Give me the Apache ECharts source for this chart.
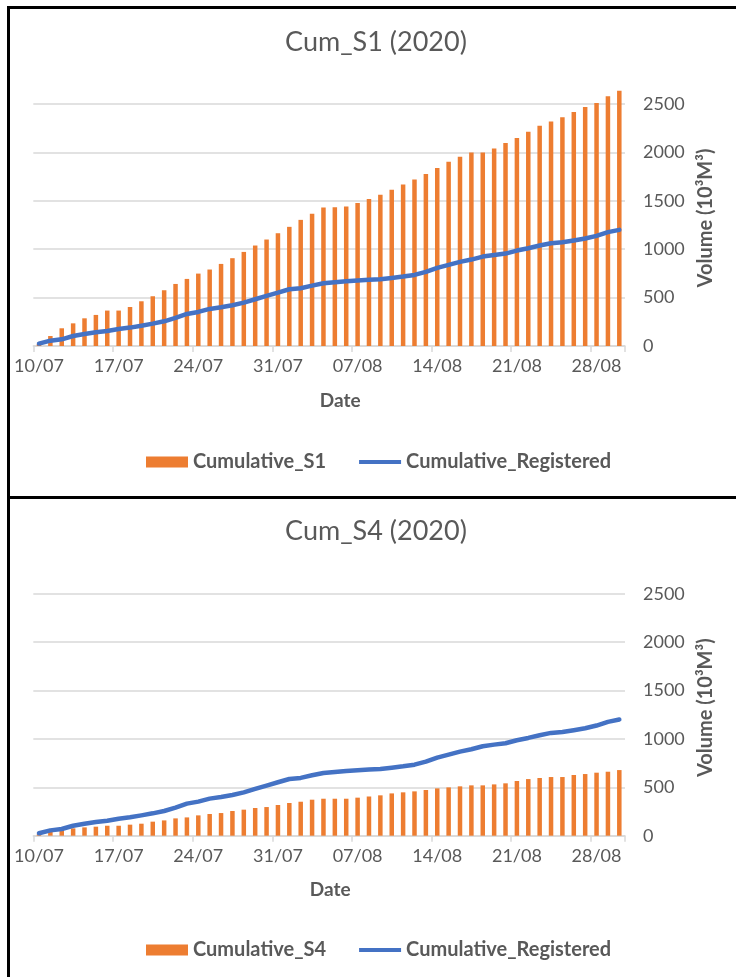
<!DOCTYPE html>
<html>
<head>
<meta charset="utf-8">
<script src="https://cdn.jsdelivr.net/npm/echarts@6/dist/echarts.min.js"></script>
<style>
html,body{margin:0;padding:0;background:#fff;}
#c{width:736px;height:977px;}
</style>
</head>
<body>
<div id="c"></div>
<script>
var dates = ['10/07','11/07','12/07','13/07','14/07','15/07','16/07','17/07','18/07','19/07','20/07','21/07','22/07','23/07','24/07','25/07','26/07','27/07','28/07','29/07','30/07','31/07',
'01/08','02/08','03/08','04/08','05/08','06/08','07/08','08/08','09/08','10/08','11/08','12/08','13/08','14/08','15/08','16/08','17/08','18/08','19/08','20/08','21/08','22/08','23/08','24/08','25/08','26/08','27/08','28/08','29/08','30/08'];

var cumS1 = [20,103,183,234,286,321,366,366,403,462,514,576,641,693,748,790,848,907,972,1038,1100,1165,
1231,1303,1365,1431,1434,1441,1476,1519,1562,1614,1669,1721,1776,1838,1903,1955,2000,2000,2041,2096,2148,2214,2276,2320,2362,2417,2469,2510,2579,2638];

var cumS4 = [15,41,65,76,86,93,103,103,114,124,145,158,179,189,210,224,234,255,269,286,296,317,
338,351,372,382,382,382,393,405,417,437,448,458,472,489,499,510,520,520,530,541,565,585,596,606,606,627,637,651,661,678];

var cumRegistered = [25,55,69,103,124,141,155,176,190,210,231,255,290,331,352,383,400,421,448,483,517,552,
586,597,624,648,659,669,676,685,690,703,717,734,765,807,838,869,893,924,941,955,986,1010,1038,1062,1072,1090,1110,1138,1176,1200];

var titles = ['Cum_S1 (2020)', 'Cum_S4 (2020)'];
var barNames = ['Cumulative_S1', 'Cumulative_S4'];
var lineName = 'Cumulative_Registered';
var yTicks = {min: 0, max: 2500, interval: 500};
var xAxisName = 'Date';
var yAxisName = 'Volume (10\u00B3M\u00B3)';

var FONT = 'Lato';
var GRAY = '#595959';
var ORANGE = '#ED7D31';
var BLUE = '#4472C4';

var chart = echarts.init(document.getElementById('c'), null, {renderer: 'canvas'});

var gridTops = [104, 593.7];
var titleTops = [29, 518];
var legendTops = [452, 940];
var datePad = [[0,0,0,22],[0,0,0,2]];

function xAxisFor(i) {
  return {
    type: 'category', gridIndex: i, data: dates, boundaryGap: true,
    axisLine: {show: true, lineStyle: {color: '#d9d9d9', width: 1.5}},
    axisTick: {show: true, interval: 6, alignWithLabel: false, length: 6, lineStyle: {color: '#d9d9d9', width: 1.5}},
    axisLabel: {interval: 6, color: GRAY, fontFamily: FONT, fontSize: 18, margin: 11},
    splitLine: {show: false},
    name: xAxisName, nameLocation: 'middle', nameGap: 45,
    nameTextStyle: {color: GRAY, fontFamily: FONT, fontSize: 19, fontWeight: 'bold', padding: datePad[i]}
  };
}
function yAxisFor(i) {
  return {
    type: 'value', gridIndex: i, position: 'right',
    min: yTicks.min, max: yTicks.max, interval: yTicks.interval,
    axisLine: {show: false}, axisTick: {show: false},
    axisLabel: {color: GRAY, fontFamily: FONT, fontSize: 18, margin: 18, align: 'left',
      formatter: function (v) { return String(v); }},
    splitLine: {show: true, lineStyle: {color: '#d9d9d9', width: 1.5}},
    name: yAxisName, nameLocation: 'middle', nameGap: 70, nameRotate: 90,
    nameTextStyle: {color: GRAY, fontFamily: FONT, fontSize: 20, fontWeight: 'bold', padding: [0,0,0,14]}
  };
}

var option = {
  animation: false,
  backgroundColor: '#fff',
  title: titles.map(function (t, i) {
    return {text: t, left: 376, textAlign: 'center', top: titleTops[i], padding: 0,
      textStyle: {color: GRAY, fontFamily: FONT, fontSize: 27, fontWeight: 'normal'}};
  }),
  legend: barNames.map(function (b, i) {
    return {
      left: 146, top: legendTops[i], itemWidth: 42, itemHeight: 11, itemGap: 33, padding: 0,
      symbolKeepAspect: true,
      data: [{name: b, icon: 'rect'},
             {name: lineName, icon: 'path://M0,0L42,0L42,4L0,4Z', itemStyle: {color: BLUE}}],
      textStyle: {color: GRAY, fontFamily: FONT, fontSize: 20, fontWeight: 'bold'}
    };
  }),
  grid: gridTops.map(function (t) {
    return {left: 33.3, right: 111, top: t, height: 242, containLabel: false};
  }),
  xAxis: [xAxisFor(0), xAxisFor(1)],
  yAxis: [yAxisFor(0), yAxisFor(1)],
  series: [
    {name: barNames[0], type: 'bar', xAxisIndex: 0, yAxisIndex: 0, data: cumS1, barWidth: 4.5, clip: false, itemStyle: {color: ORANGE}, z: 2},
    {name: lineName, type: 'line', xAxisIndex: 0, yAxisIndex: 0, data: cumRegistered, symbol: 'none', showSymbol: false,
      lineStyle: {color: BLUE, width: 4.5, cap: 'round', join: 'round'}, itemStyle: {color: BLUE}, z: 3},
    {name: barNames[1], type: 'bar', xAxisIndex: 1, yAxisIndex: 1, data: cumS4, barWidth: 4.5, clip: false, itemStyle: {color: ORANGE}, z: 2},
    {name: lineName, type: 'line', xAxisIndex: 1, yAxisIndex: 1, data: cumRegistered, symbol: 'none', showSymbol: false,
      lineStyle: {color: BLUE, width: 4.5, cap: 'round', join: 'round'}, itemStyle: {color: BLUE}, z: 3}
  ],
  graphic: [
    {type: 'line', shape: {x1: 7, y1: 7.5, x2: 736, y2: 7.5}, style: {stroke: '#000', lineWidth: 3}, z: 100},
    {type: 'line', shape: {x1: 8.5, y1: 6, x2: 8.5, y2: 977}, style: {stroke: '#000', lineWidth: 3}, z: 100},
    {type: 'line', shape: {x1: 7, y1: 497.5, x2: 736, y2: 497.5}, style: {stroke: '#000', lineWidth: 3}, z: 100}
  ]
};
chart.setOption(option);
</script>
</body>
</html>
